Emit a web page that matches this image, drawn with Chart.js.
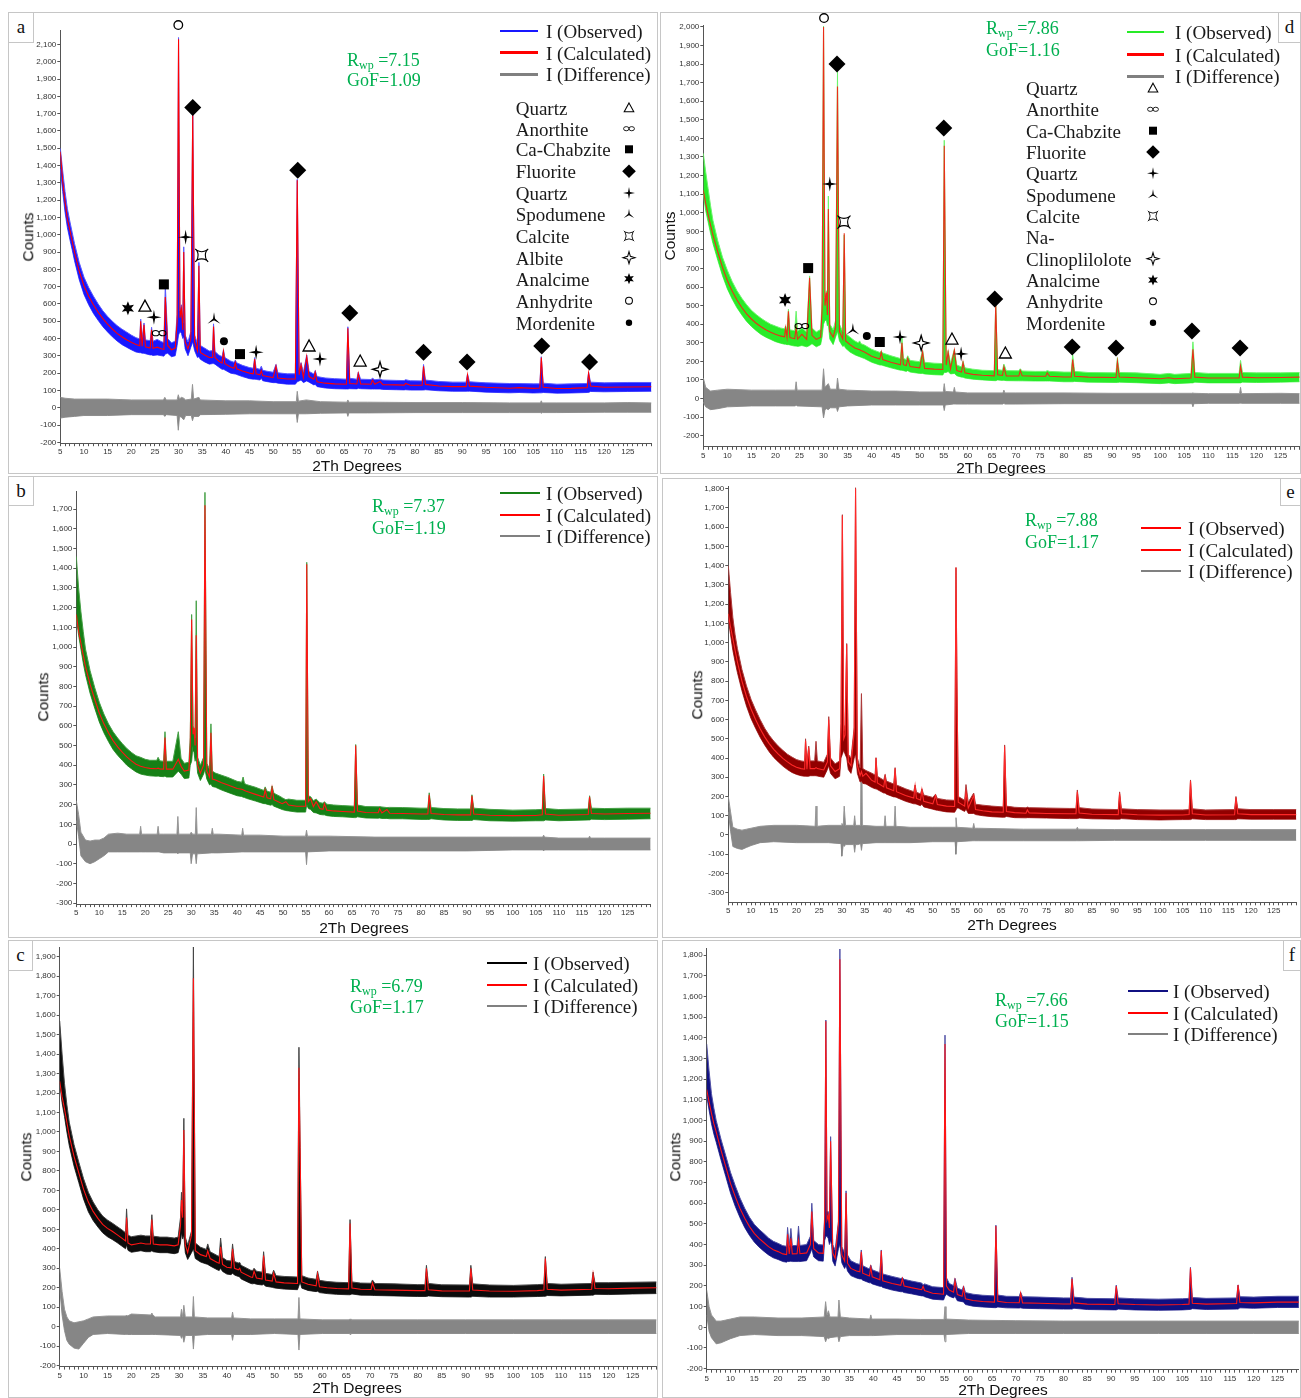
<!DOCTYPE html>
<html><head><meta charset="utf-8">
<script src="https://cdn.jsdelivr.net/npm/chart.js@4.4.1/dist/chart.umd.min.js"></script>
<style>
html,body{margin:0;padding:0;width:1301px;height:1398px;overflow:hidden;background:#fff;}
.panel{position:absolute;border:1.5px solid #c6c6c6;box-sizing:border-box;}
.lab{position:absolute;border:1.5px solid #c6c6c6;box-sizing:border-box;background:#fff;font-family:"Liberation Serif",serif;font-size:19px;color:#111;text-align:center;line-height:26px;}
canvas{position:absolute;}
.tx{position:absolute;white-space:nowrap;line-height:1;transform:translateY(-50%);color:#1a1a1a;}
.serif{font-family:"Liberation Serif",serif;font-size:19px;}
.rw{font-family:"Liberation Serif",serif;font-size:18px;color:#00b050;}
.ax{font-family:"Liberation Sans",Arial,sans-serif;font-size:15.5px;color:#111;}
.ln{position:absolute;height:2.5px;}
</style></head><body>
<script>
// ---------- shared tick labels ----------
const xLabels = [5,10,15,20,25,30,35,40,45,50,55,60,65,70,75,80,85,90,95,100,105,110,115,120,125];
const legendLabels = ['I (Observed)','I (Calculated)','I (Difference)'];
const aPhases = ['Quartz','Anorthite','Ca-Chabzite','Fluorite','Quartz','Spodumene','Calcite','Albite','Analcime','Anhydrite','Mordenite'];
const aPhaseSyms = ['tri','inf','square','diamond','star4','spod','calc','star4o','star6','circ','dot'];
const dPhases = ['Quartz','Anorthite','Ca-Chabzite','Fluorite','Quartz','Spodumene','Calcite','Na-','Clinoplilolote','Analcime','Anhydrite','Mordenite'];
const dPhaseSyms = ['tri','inf','square','diamond','star4','spod','calc','','star4o','star6','circ','dot'];

// ---------- panel a ----------
const aX = [5,5.5,6,6.5,7,7.5,8,9,10,11, 12,13,14,15,16,17,18,19,20,21, 21.8,22,22.3,22.7,23,24,24.3,24.6,25.5,26.5,
  26.9,27.2,27.7,28.5,29.3,29.7,30,30.3,30.6,30.9,31.1, 31.4,32,32.6,33,33.4,34,34.3,34.6,35.5,36.5,
  37.2,37.4,37.7,38.5,39.2,39.5,39.8,41,41.7,42,42.3, 43.5,45,45.8,46.1,46.4,47.2,47.5,47.8,48.5,50,50.6,51,
  53,54.7,55.1,55.5,55.9,56.4,57.1,57.6,58.6,58.9,59.3, 61,63,65.5,65.8,66.2,67.7,68,68.5,70.7,71,71.5,72.6,
  73.2,76,77.7,78,79,81.5,81.8,82.2,85,88,90.8, 91.1,91.5,95,100,102,105,106.4,106.7,107.1,110, 113,116.4,116.7,117.1,120,125,130];
const aCalc = [1480,1310,1190,1090,1030,965,900,790,705,645, 595,552,515,483,455,430,410,393,378,365, 358,500,356,480,352,345,450,343,350,340,
  338,640,360,335,345,500,2130,520,570,450,900, 380,340,400,1700,380,330,820,320,305,290,
  290,470,290,270,258,325,255,235,228,262,225, 212,200,196,282,196,190,215,186,182,174,240,172,
  166,166,1315,190,250,175,295,180,165,205,150, 142,138,136,460,140,137,198,138,136,160,136,152,
  133,132,131,140,130,130,240,135,126,122,122, 190,125,118,113,116,112,114,290,118,111, 112,116,200,125,118,120,121];
const aHi = [1500,1370,1250,1150,1080,1015,950,840,755,695, 645,600,560,528,500,475,455,438,420,405, 398,512,398,490,392,388,465,385,395,380,
  378,710,400,375,385,540,2140,560,595,490,930, 420,380,440,1725,420,370,840,360,345,328,
  330,485,325,305,295,335,290,270,263,275,260, 245,232,228,290,228,222,240,217,212,205,250,202,
  196,196,1320,220,260,205,305,210,195,215,180, 172,168,165,468,170,165,205,165,163,170,162,165,
  160,158,157,162,156,155,250,160,152,148,148, 195,150,144,140,140,138,138,295,142,136, 138,140,205,148,144,146,146];
const aLo = [1380,1250,1130,1040,975,915,850,740,655,595, 545,505,468,438,410,386,365,350,335,322, 318,318,315,315,312,305,305,302,305,300,
  298,310,315,295,300,360,420,440,430,400,410, 340,300,350,380,330,290,295,280,265,252,
  255,255,252,235,222,222,218,200,196,195,192, 180,168,165,165,164,160,170,156,152,145,145,142,
  136,136,150,155,160,145,155,148,132,135,122, 114,110,108,108,110,109,112,110,108,108,108,108,
  106,104,103,104,102,102,102,104,98,95,95, 95,96,90,86,88,85,86,86,88,84, 85,88,88,94,92,94,95];
const aDX = [5,6,8,10,15,20,26.8,27.1,27.4,29.7,29.95,30.2,30.6,31.1,31.5,32.7,32.95,33.2,34.3,34.6,40,45,50,54.9,55.1,55.35,57,60,65.6,65.8,66,70,80,90,100,106.5,106.7,106.9,110,120,125,130];
const aDHi = [60,55,50,50,50,45,45,60,45,45,75,50,60,55,45,50,135,50,60,45,40,40,35,35,95,38,45,35,32,45,32,32,30,30,28,28,40,28,28,28,30,28];
const aDLo = [-60,-55,-50,-45,-45,-40,-40,-50,-40,-45,-130,-50,-55,-70,-45,-45,-75,-50,-50,-40,-38,-35,-35,-35,-85,-35,-35,-32,-30,-50,-30,-30,-28,-28,-28,-28,-32,-28,-28,-26,-26,-26];
const aMarks = [[29.95,2212,'circ'],[33.0,1735,'diamond'],[55.2,1373,'diamond'],[31.5,986,'star4'],[34.9,881,'calc'],[26.9,713,'square'],[19.3,575,'star6'],[22.9,587,'tri'],[24.8,523,'star4'],[25.9,431,'inf'],[37.5,512,'spod'],[39.6,385,'dot'],[43.0,310,'square'],[46.4,321,'star4'],[57.6,357,'tri'],[59.9,282,'star4'],[66.2,547,'diamond'],[68.4,270,'tri'],[72.6,222,'star4o'],[81.8,321,'diamond'],[91.0,264,'diamond'],[106.8,357,'diamond'],[116.9,264,'diamond']];

// ---------- panel d ----------
const dX = [5,5.5,6,6.5,7,8,9,10,11,12, 13,14,15,16,17,18,19,20,21,21.9, 22.1,22.4,22.7,23,24,24.3,24.6,25.5,26.5,27.1,
  27.6,28.5,29.4,29.7,30,30.3,30.6,30.8,31,31.3, 32,32.5,32.9,33.3,34,34.3,34.6,35.5,36.5,37.2,37.5,37.8,
  38.5,40,41.7,42,42.3,44,46,46.3,46.6,47.2,47.5, 48,50,50.6,51,53,54.8,55.1,55.5,55.9,56.4,
  57.2,57.7,58.7,59,59.4,61,63,65.5,65.8,66.2,67.2,67.5, 68,70.6,70.9,71.3,74,76.2,76.5,77,80,81.5,81.8,82.2,
  85,90.8,91.1,91.5,95,100,101.8,103,106.4,106.8, 107.2,110,116.4,116.7,117.1,120,125,129];
const dCalc = [1120,1050,990,935,880,790,705,635,578,530, 490,456,428,405,386,370,357,346,337,332, 380,330,470,328,322,380,320,345,318,650,
  340,318,330,480,2000,500,570,450,1020,360, 330,380,1680,360,320,890,310,290,272,265,262,258,
  250,228,212,250,210,195,182,300,182,177,215, 172,165,250,162,158,156,1360,180,250,160,
  260,150,142,195,138,130,125,122,510,128,124,170, 122,121,150,122,120,120,138,120,116,116,210,120,
  115,113,200,116,112,106,112,106,110,265, 115,110,110,175,115,112,113,115];
const dHi = [1320,1220,1130,1040,960,850,760,690,630,580, 540,505,475,452,432,415,400,390,380,375, 390,372,480,370,365,470,362,380,358,660,
  380,358,372,520,2005,540,580,490,1090,400, 370,420,1765,400,360,880,350,330,310,300,310,295,
  288,265,248,255,245,230,215,330,215,210,230, 205,198,260,195,190,188,1390,210,258,190,
  265,180,170,200,165,158,152,150,520,155,152,185, 150,149,160,148,146,146,150,146,142,142,235,146,
  140,138,220,140,138,130,135,130,135,305, 140,135,135,205,140,138,138,140];
const dLo = [1100,1010,950,890,835,745,660,590,535,488, 450,415,388,365,345,330,318,306,298,292, 292,290,290,288,282,282,280,285,278,285,
  295,278,290,330,400,420,420,390,400,320, 290,330,360,310,280,285,270,250,235,228,225,222,
  215,195,180,180,178,165,152,152,150,146,150, 142,135,135,132,128,126,140,140,145,132,
  135,122,115,115,110,104,100,96,96,100,97,98, 96,95,95,95,94,94,94,94,90,90,90,92,
  88,86,86,88,85,80,84,80,84,84, 88,84,84,84,88,86,88,90];
const dDX = [5,5.5,6.5,8,10,15,20,24.1,24.3,24.5,29.7,30,30.3,30.6,31,31.4,32.7,32.9,33.2,35,40,45,50,54.9,55.1,55.3,57,57.2,57.4,60,67.3,67.5,67.7,70,80,90,100,106.6,106.8,107,110,116.5,116.7,116.9,125,129];
const dDHi = [110,60,40,45,50,45,45,45,90,45,45,160,60,70,80,50,50,110,50,45,40,40,35,35,80,38,35,60,35,30,30,45,30,30,30,28,28,28,30,28,26,26,60,26,28,26];
const dDLo = [-20,-45,-60,-55,-45,-40,-40,-40,-35,-40,-45,-105,-60,-55,-60,-50,-50,-70,-45,-40,-35,-35,-35,-35,-65,-35,-30,-30,-30,-30,-30,-25,-30,-30,-28,-28,-28,-28,-45,-28,-26,-26,-25,-26,-26,-26];
const dMarks = [[30.1,2048,'circ'],[32.8,1801,'diamond'],[55.0,1456,'diamond'],[31.3,1155,'star4'],[34.25,950,'calc'],[26.8,702,'square'],[22.0,530,'star6'],[25.5,390,'inf'],[36.1,369,'spod'],[39.0,336,'dot'],[41.7,304,'square'],[45.9,331,'star4'],[50.3,299,'star4o'],[56.7,320,'tri'],[58.6,240,'star4'],[65.6,536,'diamond'],[67.8,245,'tri'],[81.7,277,'diamond'],[90.8,272,'diamond'],[106.6,363,'diamond'],[116.6,272,'diamond']];

// ---------- panel b ----------
const bX = [5,5.5,6,6.5,7,8,9,10,11,12, 13,14,15,16,17,18,19,20,21,22.5, 22.8,23.2,24,24.3,24.6,26,27.2,27.8,28.5,29.5,
  29.8,30.1,30.4,30.6,30.85,31.1,31.4,32,32.7,33, 33.4,34,34.3,34.6,35.3,36.5,38,40,41.0,41.3,41.6,42,
  44,45.8,46.1,46.5,47.3,47.6,48,49.5,49.8,50.6,51.2,53, 54.9,55.15,55.5,56,56.6,57.2,58,58.7,59,59.5,61,
  63,65.5,65.8,66.2,68,70.7,71,71.5,72.6,73.2,76, 80,81.5,81.8,82.2,85,88,90.8,91.1,91.5,95,
  100,105,106.4,106.7,107.1,110,116.4,116.7,117.1,120, 125,130];
const bCalc = [1165,1080,1020,960,900,810,735,665,610,565, 525,493,466,442,422,405,395,388,384,382, 385,381,380,540,380,380,430,395,370,375,
  500,1140,560,590,500,1060,400,360,400,1720, 370,340,565,330,325,312,300,282,278,275,272,268,
  252,238,275,235,230,285,225,208,205,215,198,192, 192,1420,215,230,190,215,180,176,205,172,168,
  165,162,500,168,160,159,180,158,175,156,155, 152,152,250,155,150,148,148,245,152,146,
  144,145,148,345,152,146,150,240,155,152, 155,156];
const bHi = [1460,1300,1180,1080,990,880,795,720,660,610, 570,538,510,485,465,448,440,430,425,425, 440,422,420,570,420,420,570,435,410,415,
  540,1165,600,600,540,1235,440,400,440,1785, 410,380,610,370,360,350,338,318,314,340,308,302,
  288,272,290,268,263,295,258,240,235,225,228,222, 222,1430,245,240,220,228,210,207,215,202,198,
  195,192,505,198,190,189,190,188,185,186,185, 182,182,260,185,180,178,178,250,182,176,
  172,174,176,355,180,175,178,245,182,180, 182,182];
const bLo = [1150,1060,990,920,860,765,690,620,565,520, 480,450,425,400,382,366,355,350,346,344, 345,343,342,345,340,340,370,355,332,335,
  400,420,500,470,420,440,360,322,355,380, 330,300,305,292,288,275,262,245,241,238,236,232,
  218,205,205,202,197,200,192,178,175,170,168,162, 162,200,180,175,160,158,150,148,148,144,140,
  138,134,134,138,132,131,132,130,130,128,128, 125,125,125,128,122,120,120,120,124,118,
  116,118,118,118,122,118,122,122,126,124, 126,128];
const bDX = [5,5.5,6,7,8,9,10,11,12,14,16,18.8,19,19.2,20,22.6,22.8,23,24,26.9,27.1,27.3,29.8,30,30.3,30.9,31.1,31.3,34.4,34.6,34.8,36,41,41.2,41.4,45,50,54.9,55.1,55.3,60,70,80,90,100,106.5,106.7,106.9,110,116.5,116.7,116.9,120,130];
const bDHi = [220,150,60,20,15,20,20,30,50,55,50,50,90,50,50,50,90,50,50,50,140,50,50,60,50,50,185,50,50,80,50,50,45,80,45,45,40,40,70,40,40,35,35,35,35,35,45,35,30,30,40,30,30,30];
const bDLo = [120,40,-60,-90,-100,-90,-75,-60,-40,-40,-40,-40,-40,-40,-40,-40,-40,-40,-45,-45,-50,-45,-45,-100,-50,-50,-100,-50,-45,-45,-45,-45,-40,-40,-40,-40,-40,-40,-105,-40,-35,-35,-35,-35,-30,-30,-35,-30,-30,-30,-30,-30,-30,-30];

// ---------- panel e ----------
const eX = [5,5.5,6,6.5,7,8,9,10,11,12, 13,14,15,16,17,18,19,20,21,21.8, 22,22.3,22.7,23,24,24.3,24.6,26,26.8,27.1,
  27.5,28.5,29.5,29.8,30.1,30.4,30.7,31.05,31.4,32, 32.7,33,33.4,34,34.3,34.6,35.3,36.5,37.3,37.5,
  37.8,39.2,39.5,39.8,41.4,41.7,42,44,45.8,46.1, 46.4,47.3,47.6,48,50,50.6,51,53,54.8,55.1,55.3,
  55.6,57.0,57.3,57.8,59,59.4,61,63,65.5,65.8,66.2, 68,70.5,70.8,71.2,75,80,81.5,81.8,82.2,85,90.8,
  91.1,91.5,95,100,105,106.4,106.7,107.1,110,116.4, 116.7,117.1,120,125,130];
const eCalc = [1150,1080,1020,960,900,800,720,655,600,552, 510,475,445,420,398,380,364,352,345,342, 490,342,455,345,345,350,345,338,380,600,
  360,330,345,560,1660,500,520,990,380,360, 540,1800,360,310,330,305,320,285,275,400,
  270,250,300,245,230,345,225,205,192,255, 190,182,235,175,162,205,158,150,148,1390,810,
  170,150,225,140,205,132,126,120,118,460,122, 116,113,130,115,112,110,110,225,114,108,106,
  215,110,105,103,104,106,280,110,104,105, 195,110,106,106,106];
const eHi = [1400,1260,1130,1040,970,860,775,705,650,600, 555,518,488,462,440,420,405,392,385,382, 500,380,462,385,385,487,385,378,420,615,
  400,370,385,580,1665,540,575,995,420,400, 560,1805,400,350,735,345,335,322,312,402,
  305,285,315,280,265,350,260,240,225,260, 222,214,240,208,195,212,190,182,180,1390,820,
  200,180,262,170,218,160,155,150,146,468,150, 144,141,145,142,140,138,138,234,142,135,132,
  224,136,132,130,130,132,286,136,130,132, 200,136,132,132,132];
const eLo = [1120,1040,960,900,845,750,670,605,555,508, 468,432,403,380,358,340,325,315,308,305, 305,305,305,308,308,308,306,300,340,360,
  320,292,305,400,420,440,420,400,340,320, 400,420,320,275,280,268,265,248,240,240,
  236,218,218,212,198,198,195,175,162,162, 160,152,160,146,134,130,128,120,118,130,140,
  140,122,135,112,112,106,100,95,92,92,96, 90,89,90,90,88,85,85,85,88,84,82,
  82,85,80,78,80,80,80,84,80,80, 80,84,82,82,82];
const eDX = [5,5.5,6,7,8,9,10,12,15,20,24.1,24.3,24.5,27,29.8,30,30.3,30.5,30.8,32.6,32.8,33,33.5,34.1,34.3,34.5,37.5,39.3,39.5,39.7,41.5,41.7,41.9,45,50,54.9,55.1,55.3,58.8,59,59.2,60,70,81.6,81.8,82,90,100,110,120,130];
const eDHi = [200,120,40,30,25,30,35,45,50,50,45,150,45,50,50,60,50,150,50,50,100,50,50,50,730,50,45,45,100,45,45,150,45,40,40,40,90,40,35,60,35,35,30,30,40,30,28,28,28,28,28];
const eDLo = [120,20,-60,-70,-75,-65,-55,-40,-35,-40,-40,-40,-40,-40,-45,-110,-50,-60,-50,-50,-90,-50,-50,-45,-80,-45,-40,-40,-40,-40,-40,-40,-40,-40,-35,-35,-100,-35,-30,-30,-30,-30,-30,-30,-30,-30,-28,-28,-28,-28,-28];

// ---------- panel c ----------
const cX = [5,5.5,6,6.5,7,8,9,10,11,12, 13,14,15,16,17,18,18.8,19,19.3,20, 21,22,23,24,24.3,24.6,26,27.5,29,29.8,
  30.3,30.5,30.75,31,31.3,31.8,32.6,33,33.4,34.5, 35.7,36,36.5,38,38.4,38.7,39.1,40,40.9,41.2,41.6,42.4,42.7,43,
  45,45.4,45.7,46.2,47.4,47.7,48.1,49.5,49.8,50.3,52,54.8,55.1, 55.35,55.7,57,58.7,59,59.4,61,63,65.5,65.8,66.2,
  68,70.2,70.5,71,75,80,81.5,81.8,82.2,85,90.8, 91.1,91.5,95,100,105,106.4,106.7,107.1,110,116.4, 116.7,117.1,120,125,130];
const cCalc = [1260,1180,1120,1050,980,875,790,705,640,592, 556,525,505,490,473,455,440,560,430,420, 425,430,425,425,550,425,420,420,415,420,
  520,650,560,1010,420,380,470,1790,390,370, 360,390,350,330,326,410,320,305,302,400,300,292,300,280,
  255,253,285,250,245,365,240,234,275,230,225,222,1330, 900,230,218,210,270,205,200,196,194,530,198,
  192,191,225,190,188,185,185,300,190,184,183, 300,188,183,182,185,188,350,192,188,192, 270,196,195,198,200];
const cHi = [1570,1400,1250,1140,1050,935,845,760,690,640, 600,568,548,532,515,498,482,605,470,462, 466,470,466,466,575,465,460,460,455,460,
  560,690,600,1070,460,420,490,1950,430,408, 397,425,385,365,361,455,355,340,337,425,335,327,330,315,
  290,288,300,285,280,385,274,268,290,262,258,255,1435, 920,262,250,243,285,238,232,228,226,550,230,
  224,223,240,222,220,216,216,315,222,215,214, 315,220,214,212,216,218,360,222,218,222, 280,226,226,228,230];
const cLo = [1250,1150,1080,1000,930,825,740,655,590,545, 512,482,462,448,432,414,400,420,392,382, 386,390,385,385,390,385,380,380,375,380,
  430,480,450,470,380,345,380,400,350,332, 322,320,312,292,288,300,284,270,267,275,265,258,255,245,
  222,220,222,218,214,218,208,202,200,198,193,190,210, 230,198,186,180,182,175,170,166,164,164,168,
  162,161,160,160,158,155,155,155,158,154,152, 152,156,152,152,155,156,156,160,158,162, 162,166,165,168,170];
const cDX = [5,5.5,6,6.5,7,8,9,10,11,12,15,18.8,19,19.2,20,24.1,24.3,24.5,25,30.3,30.5,30.75,31,31.3,32.8,33,33.2,36,41,41.2,41.4,45,50,54.9,55.1,55.3,60,65.6,65.8,66,70,80,90,100,110,120,130];
const cDHi = [300,180,90,50,30,20,25,30,40,50,55,55,60,55,65,60,70,60,50,50,90,50,110,50,50,155,50,45,45,75,45,40,40,40,150,40,35,35,40,35,35,35,35,35,35,35,35];
const cDLo = [200,60,-20,-70,-90,-110,-115,-85,-55,-40,-35,-40,-40,-40,-40,-40,-40,-40,-40,-45,-60,-45,-80,-45,-45,-115,-45,-40,-40,-70,-40,-40,-35,-40,-120,-40,-35,-35,-40,-35,-35,-35,-35,-35,-35,-35,-35];

// ---------- panel f ----------
const fX = [5,5.5,6,6.5,7,8,9,10,11,12, 13,14,15,16,17,18,19,20,21,21.8, 22,22.35,22.7,23,24,24.3,24.6,26,26.8,27.1,
  27.5,28.5,29.5,29.8,30.05,30.3,30.55,30.8,31.05,31.25, 31.5,32,32.7,33,33.4,34,34.3,34.6,35.3,36.5,
  37.2,37.5,37.8,39.2,39.5,39.8,41.4,41.7,42,44, 45.8,46.15,46.5,48,50.2,50.5,50.8,52.5,54.8,55.1,
  55.4,56,56.9,57.2,57.7,58.7,59,59.4,61,63,65.5,65.8, 66.2,68,70.7,71,71.4,75,80,81.5,81.8,82.2,85,
  90.8,91.1,91.5,95,100,105,106.4,106.7,107.1,110, 116.4,116.7,117.1,120,125,129.5];
const fCalc = [1150,1090,1035,985,945,857,777,696,632,575, 527,487,454,430,410,390,375,366,355,352, 450,355,430,355,356,420,356,360,400,560,
  380,360,358,520,1480,520,540,480,900,670, 360,334,500,1780,350,320,650,310,285,272,
  268,365,262,248,290,244,230,370,225,212, 203,235,200,192,182,198,178,165,160,1370,
  200,180,170,225,158,150,190,138,130,125,122,490, 126,120,119,165,118,116,113,113,235,118,112,
  110,200,114,110,108,110,112,285,116,112, 115,205,120,118,122,122];
const fHi = [1370,1240,1130,1060,1000,910,830,750,685,625, 575,532,498,474,454,432,416,406,395,392, 483,395,478,395,396,490,396,400,440,600,
  420,400,398,540,1486,560,560,520,922,680, 400,374,512,1830,390,360,660,350,322,308,
  304,374,298,282,301,278,264,374,258,246, 236,240,232,224,214,205,210,196,192,1413,
  240,212,202,237,190,180,200,168,160,155,152,494, 156,150,149,170,148,146,142,142,242,146,140,
  138,204,142,138,136,138,140,290,144,140, 142,205,148,146,150,150];
const fLo = [1120,1050,985,935,895,810,730,650,585,530, 482,444,412,388,368,350,336,328,318,315, 318,318,320,318,318,318,318,322,360,380,
  340,322,320,420,440,440,430,400,420,400, 320,296,380,400,312,284,300,272,250,238,
  234,234,228,215,215,210,198,198,193,180, 172,172,168,162,152,152,148,136,132,150,
  160,150,142,150,128,124,122,110,102,98,95,95, 98,94,93,94,92,90,88,88,88,92,86,
  84,84,88,84,82,84,86,86,90,86, 88,88,94,92,96,96];
const fDX = [5,5.5,6,7,8,9,10,12,15,20,25,29.7,30,30.3,30.6,30.9,32.6,32.8,33.1,35,39.3,39.5,39.7,40,45,50,54.9,55.1,55.3,60,70,80,90,100,110,120,129.5];
const fDHi = [180,100,60,30,30,35,40,50,50,45,45,50,124,60,80,50,50,132,50,45,40,60,40,40,40,38,38,100,40,35,32,30,30,30,30,30,30];
const fDLo = [60,-20,-50,-80,-75,-65,-55,-40,-35,-40,-40,-45,-70,-50,-55,-50,-45,-70,-45,-40,-40,-40,-40,-40,-35,-35,-35,-70,-35,-30,-30,-30,-30,-30,-30,-30,-30];

// ---------- drawing helpers ----------
Chart.defaults.font.family = '"Liberation Sans", Arial, sans-serif';
function pts(xs, ys){ return xs.map((x,i)=>({x:x, y:ys[i]})); }
function star(ctx,n,R,r){ for(let i=0;i<2*n;i++){ const a=-Math.PI/2+i*Math.PI/n; const rr=i%2?r:R; const px=rr*Math.cos(a), py=rr*Math.sin(a); if(i===0)ctx.moveTo(px,py); else ctx.lineTo(px,py);} ctx.closePath(); }
function sym(ctx,t,x,y,s){
  if(!t) return;
  ctx.save(); ctx.translate(x,y); ctx.scale(s,s);
  ctx.fillStyle='#000'; ctx.strokeStyle='#000'; ctx.lineWidth=1.3; ctx.lineJoin='miter';
  ctx.beginPath();
  switch(t){
    case 'diamond': ctx.moveTo(0,-8.5);ctx.lineTo(8.5,0);ctx.lineTo(0,8.5);ctx.lineTo(-8.5,0);ctx.closePath();ctx.fill();break;
    case 'square': ctx.rect(-5,-5,10,10);ctx.fill();break;
    case 'tri': ctx.moveTo(0,-6);ctx.lineTo(6,5);ctx.lineTo(-6,5);ctx.closePath();ctx.stroke();break;
    case 'star4': star(ctx,4,7.5,1.7);ctx.fill();break;
    case 'star4o': star(ctx,4,7.5,2.4);ctx.stroke();break;
    case 'star6': star(ctx,6,7,3.3);ctx.fill();break;
    case 'circ': ctx.arc(0,0,4.3,0,Math.PI*2);ctx.stroke();break;
    case 'dot': ctx.arc(0,0,4,0,Math.PI*2);ctx.fill();break;
    case 'inf': ctx.lineWidth=1.1; ctx.ellipse(-3.4,0,3.4,2.6,0,0,Math.PI*2); ctx.moveTo(6.8,0); ctx.ellipse(3.4,0,3.4,2.6,0,0,Math.PI*2); ctx.stroke(); break;
    case 'spod': ctx.moveTo(-1.1,0);ctx.lineTo(0,-7);ctx.lineTo(1.1,0);ctx.closePath();ctx.fill();
      ctx.beginPath();ctx.moveTo(-0.6,-0.9);ctx.lineTo(-6.5,4.5);ctx.lineTo(0.6,0.9);ctx.closePath();ctx.fill();
      ctx.beginPath();ctx.moveTo(0.6,-0.9);ctx.lineTo(6.5,4.5);ctx.lineTo(-0.6,0.9);ctx.closePath();ctx.fill();break;
    case 'calc': ctx.lineWidth=1.1; ctx.moveTo(-5,-5);ctx.quadraticCurveTo(0,-2.2,5,-5);ctx.quadraticCurveTo(2.2,0,5,5);ctx.quadraticCurveTo(0,2.2,-5,5);ctx.quadraticCurveTo(-2.2,0,-5,-5);ctx.closePath();ctx.stroke();
      ctx.beginPath();ctx.moveTo(-5,-5);ctx.lineTo(-6.5,-6.5);ctx.moveTo(5,-5);ctx.lineTo(6.5,-6.5);ctx.moveTo(5,5);ctx.lineTo(6.5,6.5);ctx.moveTo(-5,5);ctx.lineTo(-6.5,6.5);ctx.stroke();break;
  }
  ctx.restore();
}
function markerPlugin(marks){
  return {id:'marks', afterDatasetsDraw(chart){
    if(!marks) return;
    const xs=chart.scales.x, ys=chart.scales.y, ctx=chart.ctx;
    marks.forEach(m=>sym(ctx,m[2],xs.getPixelForValue(m[0]),ys.getPixelForValue(m[1]),1));
  }};
}
function el(tag, cls, css, parent){ const d=document.createElement(tag); if(cls) d.className=cls; if(css) d.style.cssText=css; (parent||document.body).appendChild(d); return d; }

function buildPanel(p){
  const [bx,by,bw,bh]=p.box, [l,t,r,b]=p.area;
  el('div','panel',`left:${bx}px;top:${by}px;width:${bw}px;height:${bh}px;`);
  const cv=el('canvas','',`left:${bx}px;top:${by}px;width:${bw}px;height:${bh}px;`);
  cv.width=bw; cv.height=bh;
  const YW=36, XH=16;
  const ln={pointRadius:0, tension:0, fill:false};
  new Chart(cv,{
    type:'line',
    data:{datasets:[
      Object.assign({data:pts(p.x,p.calc), borderColor:p.calcColor, borderWidth:1.1},ln),
      Object.assign({},ln,{data:pts(p.x,p.hi), borderColor:p.obsEdge, backgroundColor:p.obsColor, borderWidth:1, fill:'+1'}),
      Object.assign({data:pts(p.x,p.lo), borderColor:p.obsEdge, borderWidth:1},ln),
      Object.assign({},ln,{data:pts(p.dx,p.dhi), borderColor:'rgb(150,150,150)', backgroundColor:'rgb(134,134,134)', borderWidth:1, fill:'+1'}),
      Object.assign({data:pts(p.dx,p.dlo), borderColor:'rgb(150,150,150)', borderWidth:1},ln)
    ]},
    options:{
      responsive:false, animation:false, devicePixelRatio:1, events:[],
      layout:{padding:{left:l-bx-YW, top:t-by, right:bx+bw-r, bottom:by+bh-b-XH}},
      plugins:{legend:{display:false}, tooltip:{enabled:false}},
      scales:{
        x:{type:'linear', min:p.xr[0], max:p.xr[1], bounds:'data',
          afterBuildTicks:s=>{ const a=[]; for(let v=Math.ceil(p.xr[0]); v<=p.xr[1]; v++) a.push({value:v}); s.ticks=a; },
          afterFit:s=>{ s.height=XH; },
          ticks:{autoSkip:false, maxRotation:0, minRotation:0, padding:1, color:'#333', font:{size:8}, callback:v=>xLabels.includes(v)?String(v):''},
          grid:{drawOnChartArea:false, drawTicks:true, tickLength:3, tickColor:'#555', tickWidth:1},
          border:{color:'#555', width:1}},
        y:{type:'linear', min:p.yr[0], max:p.yr[1], bounds:'data',
          afterBuildTicks:s=>{ const a=[]; for(let v=p.yt[0]; v<=p.yt[1]; v+=p.yt[2]) a.push({value:v}); s.ticks=a; },
          afterFit:s=>{ s.width=YW; },
          ticks:{padding:1, color:'#333', font:{size:8}, callback:v=>Number(v).toLocaleString('en-US')},
          grid:{drawOnChartArea:false, drawTicks:true, tickLength:3, tickColor:'#555', tickWidth:1},
          border:{color:'#555', width:1}}
      }
    },
    plugins:[markerPlugin(p.marks)]
  });
}
function txt(s,x,y,cls,extra,html){ const d=el('div','tx '+cls,`left:${x}px;top:${y}px;`+(extra||'')); if(html) d.innerHTML=s; else d.textContent=s; return d; }
function legend(x1,x2,tx,ys,colors){ ys.forEach((y,i)=>{ el('div','ln',`left:${x1}px;top:${y-1.25}px;width:${x2-x1}px;background:${colors[i]};`); txt(legendLabels[i],tx,y,'serif'); }); }
function rwp(x,y1,y2,r,g){ txt(`R<span style="font-size:12px;position:relative;top:3px">wp</span> =${r}`,x,y1,'rw','',true); txt(`GoF=${g}`,x,y2,'rw'); }
function axTitles(cx,cy,dx,dy){ txt('Counts',cx,cy,'ax','transform:translate(-50%,-50%) rotate(-90deg);'); txt('2Th Degrees',dx,dy,'ax','transform:translate(-50%,-50%);'); }
function labBox(s,x,y,w,h){ const d=el('div','lab',`left:${x}px;top:${y}px;width:${w}px;height:${h}px;line-height:${h-3}px;`); d.textContent=s; }

const panels = [
  {box:[8,12,650,462], area:[60.3,30.6,651.5,443.2], xr:[5,130], yr:[-205,2180], yt:[-200,2100,100],
   x:aX, calc:aCalc, hi:aHi, lo:aLo, dx:aDX, dhi:aDHi, dlo:aDLo, obsColor:'rgb(24,24,255)', obsEdge:'rgb(90,90,255)', calcColor:'rgb(255,0,0)', marks:aMarks},
  {box:[660,12,641,462], area:[703.3,25.1,1299.7,446.8], xr:[5,129], yr:[-260,2010], yt:[-200,2000,100],
   x:dX, calc:dCalc, hi:dHi, lo:dLo, dx:dDX, dhi:dDHi, dlo:dDLo, obsColor:'rgb(40,235,40)', obsEdge:'rgb(110,245,110)', calcColor:'rgb(235,45,25)', marks:dMarks},
  {box:[8,476,650,462], area:[76.3,491.4,650.7,904.1], xr:[5,130], yr:[-305,1790], yt:[-300,1700,100],
   x:bX, calc:bCalc, hi:bHi, lo:bLo, dx:bDX, dhi:bDHi, dlo:bDLo, obsColor:'rgb(22,128,22)', obsEdge:'rgb(70,160,70)', calcColor:'rgb(255,20,20)'},
  {box:[662,478,639,460], area:[728.3,486.8,1296.4,902.3], xr:[5,130], yr:[-350,1810], yt:[-300,1800,100],
   x:eX, calc:eCalc, hi:eHi, lo:eLo, dx:eDX, dhi:eDHi, dlo:eDLo, obsColor:'rgb(145,0,0)', obsEdge:'rgb(175,60,60)', calcColor:'rgb(255,40,40)'},
  {box:[8,940,650,458], area:[59.7,947,656.6,1366.6], xr:[5,130], yr:[-205,1950], yt:[-200,1900,100],
   x:cX, calc:cCalc, hi:cHi, lo:cLo, dx:cDX, dhi:cDHi, dlo:cDLo, obsColor:'rgb(12,12,12)', obsEdge:'rgb(70,70,70)', calcColor:'rgb(255,20,20)'},
  {box:[662,940,639,458], area:[706.7,948.9,1298.9,1369.7], xr:[5,129.5], yr:[-205,1830], yt:[-200,1800,100],
   x:fX, calc:fCalc, hi:fHi, lo:fLo, dx:fDX, dhi:fDHi, dlo:fDLo, obsColor:'rgb(16,16,130)', obsEdge:'rgb(80,80,165)', calcColor:'rgb(255,20,20)'}
];
panels.forEach(buildPanel);

// panel label boxes
labBox('a',8,12,26,31); labBox('d',1278,12,23,31); labBox('b',8,476,26,30); labBox('e',1280,478,21,28); labBox('c',8,940,25,31); labBox('f',1283,940,18,31);

// legends, fit statistics, axis titles
legend(500,538,546,[31,52.7,74.3],['rgb(24,24,255)','rgb(255,0,0)','rgb(128,128,128)']);
rwp(347,59.7,80.3,'7.15','1.09'); axTitles(28,237,357,466);
legend(1127,1164,1175,[32,54.7,76.3],['rgb(40,235,40)','rgb(255,0,0)','rgb(128,128,128)']);
rwp(986,28,49.7,'7.86','1.16'); axTitles(670,236,1001,468);
legend(500,540,546,[493,515,536],['rgb(22,128,22)','rgb(255,0,0)','rgb(128,128,128)']);
rwp(372,506,528,'7.37','1.19'); axTitles(43,697,364,928);
legend(1141,1181,1188,[528,550,571],['rgb(255,0,0)','rgb(255,0,0)','rgb(128,128,128)']);
rwp(1025,520,542,'7.88','1.17'); axTitles(697,695,1012,925);
legend(487,527,533,[963,985,1006],['rgb(0,0,0)','rgb(255,0,0)','rgb(128,128,128)']);
rwp(350,986,1007,'6.79','1.17'); axTitles(26,1157,357,1388);
legend(1128,1168,1173,[991,1013,1034],['rgb(16,16,130)','rgb(255,0,0)','rgb(128,128,128)']);
rwp(995,1000,1021,'7.66','1.15'); axTitles(675,1157,1003,1390);

// phase lists
const aRows=[107.7,128.7,149.3,171.3,193,214.3,236,257.7,278.7,300.7,322.7];
const dRows=[88,109.3,130.7,152,173.3,194.7,216,237.3,258.7,280,301.3,322.7];
aPhases.forEach((s,i)=>txt(s,515.7,aRows[i],'serif'));
dPhases.forEach((s,i)=>txt(s,1026,dRows[i],'serif'));
const ov=el('canvas','','left:0;top:0;width:1301px;height:1398px;pointer-events:none;');
ov.width=1301; ov.height=1398;
const octx=ov.getContext('2d');
aPhaseSyms.forEach((t,i)=>sym(octx,t,629,aRows[i],0.8));
dPhaseSyms.forEach((t,i)=>sym(octx,t,1153,dRows[i],0.8));
</script>
</body></html>
